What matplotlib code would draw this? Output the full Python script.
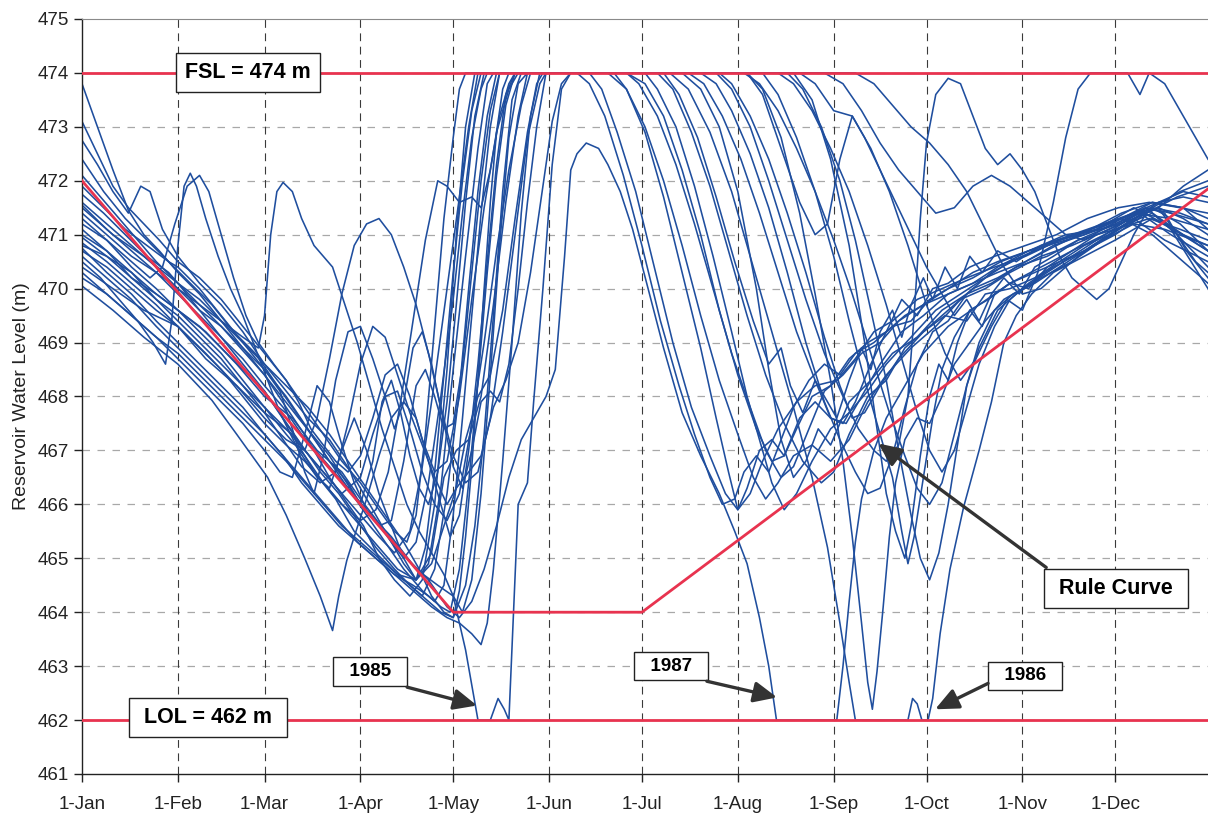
import matplotlib
matplotlib.use("Agg")
import matplotlib.pyplot as plt

plt.rcParams['font.family'] = ['Liberation Sans', 'DejaVu Sans']

# x axis is day of year (0 = 1-Jan)
MONTH_DAYS = [0, 31, 59, 90, 120, 151, 181, 212, 243, 273, 304, 334]
MONTH_LABELS = ["1-Jan", "1-Feb", "1-Mar", "1-Apr", "1-May", "1-Jun",
                "1-Jul", "1-Aug", "1-Sep", "1-Oct", "1-Nov", "1-Dec"]
LEVEL_TICKS = list(range(461, 476))

FSL = 474.0
LOL = 462.0
RULE_DAYS = [0, 120, 181, 364]
RULE_LEVELS = [472.0, 464.0, 464.0, 471.85]

# simulated daily reservoir levels, one list of (day, level) per year
SIM_1985 = [(0, 471.5), (10, 471.0), (20, 470.6), (31, 470.1), (45, 469.3), (59, 468.4),
            (70, 467.6), (80, 466.9), (90, 466.0), (100, 465.4), (108, 464.8), (115, 464.5),
            (120, 464.3), (124, 463.3), (128, 462.0), (132, 462.0), (134.5, 462.4),
            (136.5, 462.2), (138, 462.0), (139.5, 464.0), (141, 466.0), (144, 466.4),
            (146, 467.9), (149, 470.0), (152, 472.3), (155, 473.7), (158, 474.0),
            (194, 474.0), (200, 473.7), (206, 473.0), (212, 471.8), (218, 470.0),
            (222, 468.5), (226, 467.2), (230, 466.5), (234, 466.8), (238, 467.4),
            (242, 467.1), (248, 467.9), (255, 468.3), (262, 468.8), (270, 469.1),
            (278, 469.6), (286, 469.9), (294, 470.1), (302, 470.4), (312, 470.6),
            (322, 470.9), (334, 471.1), (345, 471.3), (355, 471.1), (364, 470.9)]

SIM_1986 = [(0, 470.4), (10, 470.0), (20, 469.6), (31, 469.3), (40, 468.7), (50, 468.2),
            (59, 467.7), (68, 467.3), (75, 466.6), (82, 466.1), (88, 465.5), (95, 465.1),
            (102, 464.7), (110, 464.3), (116, 464.0), (120, 463.9), (124, 464.5),
            (127, 465.6), (130, 467.3), (133, 469.5), (136, 471.8), (139, 473.5),
            (142, 474.0), (190, 474.0), (196, 473.7), (203, 472.9), (210, 471.8),
            (217, 470.4), (224, 469.0), (230, 467.8), (236, 466.5), (241, 465.2),
            (245, 463.8), (248, 462.7), (250, 462.0), (267, 462.0), (268.5, 462.4),
            (270, 462.3), (271.5, 462.0), (273.5, 462.0), (275, 462.4), (277.4, 463.6),
            (280.6, 464.8), (285, 465.95), (290, 467.0), (294, 467.9), (298, 469.0),
            (302, 469.5), (307, 469.9), (314, 470.3), (324, 470.6), (334, 470.9),
            (346, 471.3), (356, 471.0), (364, 470.8)]

SIM_1987 = [(0, 470.8), (8, 470.6), (16, 470.3), (24, 469.9), (31, 469.6), (40, 469.2),
            (50, 468.6), (59, 468.0), (68, 467.6), (76, 467.0), (84, 466.6), (90, 466.1),
            (98, 465.5), (105, 465.0), (112, 464.6), (118, 464.1), (122, 463.9),
            (126, 464.2), (130, 464.8), (134, 465.6), (138, 466.5), (142, 467.2),
            (146, 467.6), (150, 468.0), (153, 468.5), (156, 470.6), (158, 472.2),
            (160, 472.5), (163, 472.7), (167, 472.6), (170, 472.3), (174, 471.8),
            (178, 471.1), (183, 470.0), (188, 468.9), (194, 467.7), (200, 466.9),
            (206, 466.2), (211, 465.5), (215, 464.9), (219, 463.9), (222, 463.0),
            (224.5, 462.0), (244, 462.0), (246, 463.0), (248, 464.2), (250, 465.3),
            (252, 466.1), (256, 467.0), (260, 467.6), (266, 468.2), (272, 468.8),
            (280, 469.3), (290, 469.7), (300, 470.1), (310, 470.4), (320, 470.7),
            (334, 471.1), (346, 471.4), (356, 471.0), (364, 470.7)]

SIM_04 = [(0, 470.05), (10, 469.6), (20, 469.1), (31, 468.6), (42, 467.93), (50, 467.3),
          (60, 466.5), (66, 465.8), (72, 465.0), (77, 464.3), (81, 463.66), (83, 464.3),
          (85.6, 464.96), (88, 465.4), (92, 466.1), (96, 466.9), (100, 467.6), (104, 467.9),
          (108, 467.6), (112, 466.8), (116, 466.0), (119, 465.4), (122, 465.8), (125, 467.0),
          (128, 468.6), (131, 470.5), (134, 472.3), (137, 473.6), (140, 474.0), (176, 474.0),
          (182, 473.8), (188, 473.2), (194, 472.2), (200, 471.0), (206, 469.6), (212, 468.4),
          (218, 467.4), (223, 466.8), (227, 466.9), (232, 467.6), (237, 467.9), (242, 467.6),
          (247, 467.5), (252, 468.0), (258, 468.6), (265, 469.2), (272, 469.5), (280, 469.9),
          (288, 470.1), (296, 470.4), (306, 470.7), (318, 471.0), (330, 471.1), (340, 471.3),
          (350, 470.9), (364, 470.5)]

SIM_05 = [(0, 473.8), (5, 473.0), (10, 472.2), (15, 471.45), (20, 471.0), (25, 470.7),
          (31, 470.3), (38, 469.9), (45, 469.4), (52, 468.9), (59, 468.4), (66, 467.8),
          (73, 467.2), (80, 466.5), (86, 466.0), (91, 465.6), (96, 465.0), (101, 464.6),
          (106, 464.3), (110, 464.6), (114, 466.0), (118, 468.5), (121, 471.0), (124, 473.0),
          (127, 474.0), (170, 474.0), (176, 473.7), (182, 473.0), (188, 472.0), (194, 470.8),
          (200, 469.5), (206, 468.3), (212, 467.3), (217, 466.5), (221, 466.1), (225, 466.4),
          (230, 466.9), (236, 467.1), (242, 466.8), (248, 467.2), (254, 467.9), (260, 468.4),
          (268, 468.9), (276, 469.3), (284, 469.8), (292, 470.0), (300, 470.3), (310, 470.6),
          (320, 470.8), (332, 471.1), (342, 471.4), (352, 471.0), (364, 470.6)]

SIM_06 = [(0, 470.5), (6, 470.2), (12, 469.8), (18, 469.4), (23, 469.0), (27, 468.6),
          (29, 469.4), (31, 470.8), (33, 471.9), (35, 472.14), (37, 471.9), (40, 471.3),
          (44, 470.6), (48, 470.0), (52, 469.5), (56, 468.9), (60, 468.3), (64, 467.7),
          (70, 467.0), (76, 466.5), (80, 466.3), (84, 467.0), (88, 467.6), (92, 467.0),
          (96, 466.2), (100, 465.6), (104, 465.0), (108, 464.6), (112, 464.9), (116, 466.3),
          (120, 468.5), (124, 470.6), (128, 472.6), (131, 473.8), (133, 474.0), (200, 474.0),
          (205, 473.8), (210, 473.3), (216, 472.5), (222, 471.5), (228, 470.3), (234, 469.0),
          (240, 467.9), (245, 467.2), (250, 466.6), (254, 466.2), (258, 466.3), (262, 466.9),
          (266, 467.8), (270, 468.6), (275, 469.2), (280, 469.4), (286, 469.9), (294, 470.3),
          (304, 470.6), (316, 470.9), (328, 471.1), (340, 471.5), (350, 471.2), (364, 470.7)]

SIM_07 = [(0, 471.2), (8, 470.9), (16, 470.5), (22, 470.2), (26, 470.4), (30, 471.2),
          (34, 471.9), (38, 472.1), (41, 471.8), (45, 471.0), (49, 470.2), (53, 469.5),
          (57, 469.0), (62, 468.6), (66, 468.3), (70, 467.9), (74, 467.4), (78, 467.1),
          (82, 466.8), (86, 466.6), (90, 466.9), (94, 467.6), (98, 468.4), (102, 468.6),
          (106, 468.0), (110, 467.2), (114, 466.6), (118, 466.8), (122, 468.0), (126, 469.8),
          (130, 471.5), (134, 472.9), (138, 473.7), (141, 474.0), (182, 474.0), (186, 473.7),
          (192, 473.0), (198, 471.9), (204, 470.6), (210, 469.2), (215, 468.0), (219, 467.2),
          (223, 466.4), (227, 465.9), (231, 466.2), (236, 466.8), (242, 467.4), (248, 467.7),
          (254, 468.1), (260, 468.6), (268, 469.1), (276, 469.6), (284, 469.9), (292, 470.2),
          (300, 470.5), (312, 470.8), (324, 471.0), (336, 471.3), (346, 471.6), (356, 471.5),
          (364, 471.1)]

SIM_08 = [(0, 471.6), (8, 471.2), (16, 470.8), (24, 470.4), (31, 470.0), (38, 469.7),
          (45, 469.4), (52, 469.1), (57, 468.9), (59, 469.5), (61, 471.0), (63, 471.8),
          (65, 471.97), (68, 471.8), (71, 471.3), (75, 470.8), (78, 470.6), (81, 470.4),
          (85, 469.7), (89, 469.0), (93, 468.2), (97, 467.4), (101, 466.7), (105, 466.0),
          (109, 465.5), (113, 465.1), (117, 464.7), (120, 464.3), (123, 464.0), (126, 464.6),
          (129, 466.2), (132, 468.4), (135, 470.8), (138, 472.8), (141, 473.8), (144, 474.0),
          (206, 474.0), (210, 473.8), (216, 473.2), (222, 472.4), (228, 471.4), (234, 470.3),
          (240, 469.1), (245, 468.2), (249, 467.6), (253, 467.7), (258, 468.2), (264, 468.7),
          (272, 469.2), (280, 469.6), (288, 470.0), (296, 470.2), (305, 470.5), (315, 470.8),
          (326, 471.1), (336, 471.4), (346, 471.6), (356, 471.5), (364, 471.3)]

SIM_09 = [(0, 470.85), (8, 470.5), (16, 470.1), (24, 469.7), (31, 469.3), (40, 468.8),
          (50, 468.2), (59, 467.6), (66, 467.2), (72, 467.0), (76, 467.6), (80, 468.7),
          (84, 469.9), (88, 470.8), (92, 471.2), (96, 471.3), (100, 471.0), (104, 470.4),
          (108, 469.7), (112, 468.8), (116, 467.8), (120, 466.9), (124, 466.4), (128, 466.6),
          (132, 467.6), (136, 469.2), (140, 471.0), (144, 472.8), (148, 473.8), (150, 474.0),
          (214, 474.0), (219, 473.8), (225, 473.3), (231, 472.6), (237, 471.8), (243, 470.9),
          (249, 469.9), (255, 468.8), (261, 467.7), (266, 466.9), (270, 466.3), (274, 466.0),
          (278, 466.4), (282, 467.3), (286, 468.2), (290, 468.9), (296, 469.6), (302, 469.9),
          (310, 470.2), (320, 470.5), (330, 470.9), (340, 471.2), (350, 471.1), (364, 470.8)]

SIM_10 = [(0, 472.75), (5, 472.3), (10, 471.8), (15, 471.4), (19, 471.9), (22, 471.8),
          (26, 471.1), (31, 470.6), (38, 470.1), (45, 469.7), (52, 469.2), (59, 468.6),
          (66, 468.1), (73, 467.6), (80, 467.2), (87, 466.6), (93, 466.0), (99, 465.4),
          (104, 464.9), (108, 464.6), (111, 465.2), (114, 466.6), (117, 468.4), (120, 470.3),
          (123, 472.0), (126, 473.3), (129, 474.0), (176, 474.0), (180, 473.8), (186, 473.2),
          (192, 472.3), (198, 471.2), (204, 470.0), (210, 468.8), (216, 467.8), (221, 467.0),
          (226, 466.5), (230, 466.7), (235, 467.4), (240, 468.1), (246, 468.4), (252, 468.8),
          (258, 469.0), (264, 469.4), (272, 469.7), (280, 470.0), (288, 470.2), (297, 470.5),
          (306, 470.7), (316, 470.9), (326, 471.1), (336, 471.3), (346, 471.0), (356, 470.5),
          (364, 470.1)]

SIM_11 = [(0, 472.1), (6, 471.7), (12, 471.3), (18, 470.9), (24, 470.5), (31, 470.1),
          (38, 469.6), (45, 469.1), (52, 468.6), (59, 468.1), (66, 467.5), (72, 467.0),
          (78, 466.6), (84, 466.2), (90, 466.5), (94, 467.3), (98, 468.0), (102, 468.1),
          (106, 467.4), (110, 466.6), (114, 466.0), (118, 465.7), (122, 466.2), (126, 467.5),
          (130, 469.0), (134, 470.7), (138, 472.2), (142, 473.4), (145, 474.0), (225, 474.0),
          (230, 473.8), (236, 473.3), (242, 472.6), (248, 471.8), (254, 470.8), (260, 469.7),
          (265, 468.7), (270, 467.7), (274, 467.0), (278, 466.6), (282, 467.0), (286, 467.8),
          (290, 468.6), (295, 469.3), (300, 469.8), (306, 470.1), (314, 470.4), (324, 470.7),
          (334, 471.0), (344, 471.4), (354, 471.7), (364, 471.9)]

SIM_12 = [(0, 471.9), (7, 471.5), (14, 471.1), (21, 470.8), (28, 470.5), (31, 470.4),
          (38, 470.0), (45, 469.5), (52, 469.0), (59, 468.5), (66, 468.0), (73, 467.4),
          (80, 466.8), (86, 466.3), (92, 465.8), (98, 465.3), (104, 464.8), (110, 464.4),
          (114, 464.2), (117, 464.5), (120, 465.8), (123, 467.6), (126, 469.5), (129, 471.4),
          (132, 473.0), (135, 474.0), (164, 474.0), (168, 473.7), (173, 472.9), (179, 471.8),
          (185, 470.4), (191, 469.0), (197, 467.8), (203, 466.9), (208, 466.2), (212, 465.9),
          (216, 466.2), (220, 466.8), (225, 467.4), (231, 467.9), (237, 468.2), (244, 468.3),
          (250, 468.7), (256, 469.2), (262, 469.4), (270, 469.8), (278, 470.0), (286, 470.2),
          (295, 470.4), (305, 470.6), (316, 470.9), (328, 471.1), (340, 471.4), (352, 471.3),
          (364, 471.1)]

SIM_13 = [(0, 471.3), (8, 470.9), (16, 470.4), (24, 470.0), (31, 469.6), (38, 469.2),
          (45, 468.8), (52, 468.3), (59, 467.8), (66, 467.3), (72, 466.9), (78, 466.4),
          (84, 466.0), (90, 465.7), (95, 465.9), (99, 466.6), (103, 467.9), (107, 469.4),
          (111, 470.9), (115, 472.0), (118, 471.9), (122, 471.6), (126, 471.7), (129, 471.5),
          (132, 472.2), (135, 473.2), (138, 473.8), (140, 474.0), (240, 474.0), (246, 473.8),
          (252, 473.3), (258, 472.7), (264, 472.2), (270, 471.8), (276, 471.4), (282, 471.5),
          (288, 471.9), (294, 472.1), (300, 471.9), (306, 471.6), (312, 471.3), (318, 471.0),
          (324, 470.9), (330, 471.1), (336, 471.3), (344, 471.5), (352, 471.4), (364, 471.2)]

SIM_14 = [(0, 471.1), (8, 470.7), (16, 470.2), (24, 469.8), (31, 469.5), (38, 469.1),
          (45, 468.7), (52, 468.2), (59, 467.7), (65, 467.2), (71, 466.7), (77, 466.4),
          (82, 466.6), (86, 467.5), (90, 468.6), (94, 469.3), (98, 469.1), (102, 468.4),
          (106, 467.7), (110, 467.1), (114, 466.5), (118, 466.0), (121, 466.3), (124, 467.2),
          (128, 468.0), (132, 468.4), (136, 469.6), (140, 471.3), (144, 472.9), (147, 473.8),
          (149, 474.0), (205, 474.0), (210, 473.7), (216, 473.0), (222, 472.0), (228, 470.9),
          (234, 469.8), (240, 468.8), (246, 468.0), (251, 467.4), (256, 467.0), (260, 466.8),
          (264, 467.1), (267, 468.0), (269, 469.5), (271, 471.3), (273, 472.7), (276, 473.6),
          (280, 473.9), (284, 473.8), (288, 473.2), (292, 472.6), (296, 472.3), (300, 472.5),
          (304, 472.2), (308, 471.8), (312, 471.2), (316, 470.6), (320, 470.2), (324, 470.0),
          (328, 469.8), (332, 470.0), (336, 470.5), (340, 471.0), (344, 471.4), (348, 471.5),
          (354, 471.0), (360, 470.5), (364, 470.3)]

SIM_15 = [(0, 470.7), (8, 470.4), (16, 470.0), (24, 469.6), (31, 469.3), (38, 468.9),
          (45, 468.5), (52, 468.0), (59, 467.5), (66, 467.1), (72, 466.8), (78, 466.4),
          (84, 466.0), (90, 465.6), (96, 465.2), (102, 464.8), (108, 464.6), (113, 464.9),
          (117, 465.6), (121, 466.3), (125, 466.6), (129, 466.9), (133, 467.8), (137, 468.3),
          (141, 469.0), (145, 470.3), (149, 471.9), (152, 473.1), (155, 473.8), (158, 474.0),
          (186, 474.0), (191, 473.7), (197, 472.9), (203, 471.9), (209, 470.7), (215, 469.5),
          (221, 468.4), (227, 467.5), (233, 466.8), (239, 466.4), (243, 466.6), (248, 467.3),
          (254, 468.0), (260, 468.3), (266, 468.9), (272, 469.2), (279, 469.5), (286, 469.4),
          (292, 469.9), (300, 470.0), (308, 470.2), (316, 470.5), (324, 470.7), (332, 471.0),
          (340, 471.3), (348, 471.5), (356, 471.9), (364, 472.2)]

SIM_16 = [(0, 470.6), (8, 470.2), (16, 469.8), (24, 469.3), (31, 468.9), (38, 468.5),
          (45, 468.1), (52, 467.7), (59, 467.3), (65, 466.9), (71, 466.4), (77, 466.0),
          (83, 465.6), (89, 465.3), (95, 465.0), (101, 464.7), (107, 464.5), (112, 464.3),
          (116, 464.1), (119, 464.0), (122, 464.8), (125, 466.4), (128, 468.3), (131, 470.3),
          (134, 472.1), (137, 473.4), (140, 474.0), (215, 474.0), (220, 473.7), (226, 472.8),
          (232, 471.4), (237, 469.9), (242, 468.3), (246, 466.8), (249, 465.4), (252, 463.8),
          (254, 462.7), (255.5, 462.2), (257, 462.9), (259, 464.1), (261, 465.4), (263, 466.4),
          (266, 467.2), (270, 467.6), (274, 467.5), (278, 468.0), (282, 468.6), (287, 469.0),
          (292, 469.4), (298, 469.8), (304, 470.0), (312, 470.3), (320, 470.6), (328, 470.9),
          (336, 471.2), (344, 471.5), (350, 471.4), (357, 470.7), (364, 470.2)]

SIM_17 = [(0, 470.95), (8, 470.6), (16, 470.2), (24, 469.9), (31, 469.6), (38, 469.3),
          (45, 468.9), (52, 468.5), (59, 468.1), (65, 467.6), (71, 467.1), (77, 466.6),
          (83, 466.2), (89, 465.7), (95, 465.2), (101, 464.8), (106, 464.5), (110, 464.3),
          (114, 464.8), (118, 466.2), (122, 468.1), (125, 470.0), (128, 471.8), (131, 473.2),
          (134, 474.0), (228, 474.0), (233, 473.7), (239, 473.0), (245, 472.0), (250, 470.9),
          (255, 469.6), (260, 468.3), (264, 467.0), (268, 465.8), (271, 465.0), (274, 464.6),
          (277, 465.1), (280, 466.0), (283, 467.1), (286, 468.2), (290, 469.0), (295, 469.6),
          (301, 469.9), (308, 470.1), (316, 470.4), (324, 470.7), (332, 471.0), (340, 471.3),
          (348, 471.5), (356, 471.3), (364, 471.0)]

SIM_18 = [(0, 471.4), (8, 471.0), (16, 470.6), (24, 470.3), (31, 469.9), (38, 469.5),
          (45, 469.1), (52, 468.7), (59, 468.2), (65, 467.8), (71, 467.3), (77, 466.9),
          (83, 466.5), (89, 466.1), (95, 465.7), (100, 465.3), (104, 465.0), (108, 465.3),
          (112, 466.4), (116, 468.0), (120, 469.8), (123, 471.4), (126, 472.8), (129, 473.7),
          (131, 474.0), (220, 474.0), (225, 473.6), (231, 472.8), (237, 471.8), (243, 470.6),
          (248, 469.4), (253, 468.3), (258, 467.3), (262, 466.5), (265, 465.5), (267, 464.9),
          (269, 465.4), (272, 466.5), (275, 467.6), (278, 468.5), (282, 469.1), (287, 469.6),
          (293, 469.8), (300, 470.1), (308, 470.3), (316, 470.5), (324, 470.8), (332, 471.0),
          (340, 471.3), (348, 471.6), (356, 471.7), (364, 471.6)]

SIM_19 = [(0, 471.75), (7, 471.4), (14, 471.0), (21, 470.6), (28, 470.3), (31, 470.1),
          (38, 469.8), (45, 469.4), (52, 469.0), (59, 468.6), (66, 468.2), (73, 467.8),
          (80, 467.3), (86, 466.8), (92, 466.3), (98, 465.8), (104, 465.3), (109, 464.8),
          (113, 464.3), (117, 464.0), (120, 463.9), (122, 464.4), (124, 465.4), (126, 466.7),
          (128, 468.3), (130, 470.0), (132, 471.6), (134, 472.9), (136, 473.7), (138, 474.0),
          (160, 474.0), (164, 473.8), (169, 473.2), (175, 472.1), (181, 470.8), (187, 469.4),
          (193, 468.2), (198, 467.3), (203, 466.5), (207, 466.0), (211, 466.1), (214, 466.6),
          (218, 466.9), (222, 466.6), (226, 467.2), (230, 467.8), (235, 468.3), (240, 468.6),
          (245, 468.4), (250, 468.8), (256, 469.0), (262, 469.3), (268, 469.4), (274, 469.8),
          (280, 470.0), (288, 470.3), (296, 470.5), (306, 470.7), (316, 470.9), (326, 471.1),
          (336, 471.3), (346, 471.5), (355, 471.8), (364, 472.0)]

SIM_20 = [(0, 470.2), (8, 469.9), (16, 469.5), (24, 469.1), (31, 468.8), (38, 468.4),
          (45, 468.0), (52, 467.6), (59, 467.2), (66, 466.8), (72, 466.4), (78, 466.0),
          (84, 465.6), (90, 465.3), (96, 465.0), (102, 464.7), (108, 464.6), (113, 465.1),
          (117, 466.5), (121, 467.0), (125, 467.2), (129, 468.0), (133, 469.7), (137, 471.6),
          (141, 473.2), (144, 474.0), (232, 474.0), (237, 473.8), (243, 473.3), (249, 473.2),
          (255, 472.6), (261, 471.8), (267, 470.8), (273, 469.7), (279, 468.8), (284, 468.3),
          (289, 468.7), (294, 469.3), (299, 469.8), (304, 469.6), (309, 470.3), (314, 471.6),
          (318, 472.8), (322, 473.7), (326, 474.0), (338, 474.0), (342, 473.6), (345, 474.0),
          (350, 473.8), (356, 473.2), (364, 472.4)]

SIM_21 = [(0, 471.0), (8, 470.7), (16, 470.3), (24, 469.8), (31, 469.4), (38, 469.0),
          (45, 468.6), (52, 468.2), (59, 467.8), (66, 467.4), (72, 467.0), (78, 466.6),
          (84, 466.2), (90, 465.8), (96, 465.4), (101, 465.1), (106, 465.5), (110, 466.7),
          (114, 468.3), (118, 470.0), (122, 471.7), (125, 473.0), (128, 474.0), (250, 474.0),
          (256, 473.8), (262, 473.4), (268, 473.0), (274, 472.7), (280, 472.3), (286, 471.8),
          (292, 471.1), (298, 470.4), (304, 469.9), (310, 470.0), (316, 470.3), (322, 470.6),
          (330, 470.9), (338, 471.2), (346, 471.5), (355, 471.2), (364, 470.7)]

SIM_22 = [(0, 470.75), (8, 470.3), (16, 469.9), (24, 469.4), (31, 469.0), (38, 468.6),
          (45, 468.2), (52, 467.8), (59, 467.3), (65, 466.9), (71, 466.5), (77, 466.1),
          (83, 465.7), (89, 465.3), (95, 465.0), (101, 464.7), (107, 464.4), (113, 464.1),
          (118, 463.9), (122, 463.8), (126, 463.6), (129, 463.4), (131, 463.8), (133, 464.8),
          (136, 466.8), (139, 469.0), (142, 471.4), (145, 473.2), (148, 474.0), (172, 474.0),
          (176, 473.7), (182, 472.9), (188, 471.7), (194, 470.3), (200, 468.9), (205, 467.6),
          (209, 466.6), (212, 465.9), (215, 466.3), (219, 467.0), (223, 467.2), (227, 466.9),
          (231, 467.4), (236, 468.0), (242, 468.2), (248, 468.7), (254, 469.0), (260, 469.2),
          (266, 469.5), (272, 469.7), (280, 469.9), (288, 470.1), (296, 470.3), (305, 470.5),
          (314, 470.8), (324, 471.0), (334, 471.2), (344, 471.5), (354, 471.0), (364, 470.4)]

SIM_23 = [(0, 473.1), (5, 472.5), (10, 471.9), (15, 471.5), (20, 471.2), (25, 470.9),
          (31, 470.5), (38, 470.2), (45, 469.8), (52, 469.3), (59, 468.8), (66, 468.3),
          (72, 467.8), (78, 467.3), (84, 466.8), (90, 466.4), (96, 465.9), (101, 465.5),
          (105, 465.3), (108, 465.8), (111, 467.3), (114, 469.3), (117, 471.3), (120, 472.8),
          (122, 473.7), (124, 474.0), (196, 474.0), (201, 473.8), (207, 473.2), (213, 472.4),
          (219, 471.4), (225, 470.3), (231, 469.2), (237, 468.3), (242, 467.6), (246, 467.5),
          (250, 467.9), (255, 468.6), (260, 469.2), (265, 469.8), (270, 469.5), (275, 470.0),
          (280, 470.1), (287, 470.4), (295, 470.6), (305, 470.8), (315, 471.0), (325, 471.3),
          (335, 471.5), (345, 471.6), (355, 471.5), (364, 471.4)]

SIM_24 = [(0, 471.55), (8, 471.1), (16, 470.7), (24, 470.3), (31, 470.0), (38, 469.6),
          (45, 469.3), (52, 468.9), (59, 468.5), (64, 468.1), (68, 467.4), (72, 466.6),
          (75, 466.2), (78, 466.9), (82, 468.3), (86, 469.2), (90, 469.3), (94, 468.7),
          (98, 468.0), (101, 467.4), (104, 467.9), (107, 468.9), (110, 469.2), (113, 468.6),
          (117, 467.5), (120, 466.7), (123, 466.3), (126, 467.0), (129, 467.9), (132, 468.1),
          (135, 467.9), (138, 468.6), (141, 470.0), (144, 471.6), (147, 473.0), (150, 474.0),
          (188, 474.0), (193, 473.6), (199, 472.8), (205, 471.7), (211, 470.5), (217, 469.4),
          (222, 468.6), (226, 468.9), (229, 468.2), (233, 467.7), (237, 468.3), (240, 468.0),
          (244, 467.6), (248, 468.3), (252, 468.9), (255, 468.5), (258, 469.2), (262, 469.6),
          (265, 469.1), (268, 469.7), (272, 470.2), (275, 469.8), (279, 470.4), (283, 470.0),
          (287, 470.6), (291, 470.3), (296, 470.7), (302, 470.5), (310, 470.8), (320, 471.0),
          (330, 471.2), (340, 471.4), (348, 471.6), (356, 471.8), (364, 471.7)]

SIM_25 = [(0, 472.4), (7, 471.8), (14, 471.3), (21, 470.9), (28, 470.5), (35, 470.1),
          (42, 469.7), (49, 469.2), (56, 468.8), (62, 468.3), (68, 467.8), (74, 467.3),
          (80, 466.8), (86, 466.4), (90, 466.0), (94, 466.8), (97, 467.9), (100, 468.3),
          (103, 467.7), (106, 466.9), (109, 466.3), (112, 466.0), (115, 466.6), (118, 467.9),
          (121, 469.7), (124, 471.6), (127, 473.2), (130, 474.0), (215, 474.0), (220, 473.6),
          (226, 472.6), (232, 471.6), (237, 471.0), (241, 471.2), (245, 472.4), (249, 473.2),
          (253, 472.8), (258, 472.2), (263, 471.6), (268, 471.0), (273, 470.4), (278, 469.9),
          (282, 469.5), (286, 469.8), (290, 469.4), (294, 469.9), (298, 470.2), (303, 469.9),
          (308, 470.4), (314, 470.6), (322, 470.9), (330, 471.1), (338, 471.3), (346, 471.5),
          (355, 471.4), (364, 471.2)]

SIM_26 = [(0, 470.3), (8, 469.9), (16, 469.5), (24, 469.1), (31, 468.7), (38, 468.3),
          (45, 467.9), (52, 467.5), (59, 467.0), (64, 466.6), (68, 466.5), (72, 467.3),
          (76, 468.2), (80, 467.9), (84, 467.1), (88, 466.4), (92, 465.9), (96, 465.6),
          (100, 465.7), (104, 466.8), (108, 468.2), (111, 468.5), (114, 468.0), (117, 467.4),
          (120, 467.5), (123, 468.6), (126, 470.3), (129, 472.0), (132, 473.3), (135, 474.0),
          (230, 474.0), (236, 473.5), (242, 472.4), (248, 470.8), (253, 469.0), (257, 467.4),
          (260, 466.2), (263, 465.5), (266, 465.0), (268, 465.6), (271, 466.9), (274, 468.0),
          (277, 468.6), (280, 468.3), (283, 469.0), (287, 469.6), (291, 469.3), (295, 469.9),
          (300, 470.1), (306, 470.0), (312, 470.4), (320, 470.7), (328, 471.0), (336, 471.2),
          (344, 471.5), (352, 471.1), (364, 470.0)]

TRACES = [SIM_1985, SIM_1986, SIM_1987, SIM_04, SIM_05, SIM_06, SIM_07, SIM_08,
          SIM_09, SIM_10, SIM_11, SIM_12, SIM_13, SIM_14, SIM_15, SIM_16, SIM_17,
          SIM_18, SIM_19, SIM_20, SIM_21, SIM_22, SIM_23, SIM_24, SIM_25, SIM_26]

BLUE = "#1f4e9e"
RED = "#e8334f"
ARROW = "#333333"

W, H = 1208, 815
fig = plt.figure(figsize=(W / 100, H / 100), dpi=100)
ax = fig.add_axes([82 / W, 41 / H, 1126 / W, 755 / H])

# grid: grey dashes for levels, dark dashes for months
for lv in LEVEL_TICKS[1:-1]:
    ax.axhline(lv, color="#a8a8a8", lw=0.9, ls=(0, (6, 6)), zorder=1)
for d in MONTH_DAYS[1:]:
    ax.axvline(d, color="#3a3a3a", lw=0.8, ls=(0, (7, 5)), zorder=1)

for tr in TRACES:
    days = [p[0] for p in tr]
    lev = [p[1] for p in tr]
    ax.plot(days, lev, color=BLUE, lw=1.15, zorder=2, solid_joinstyle="round")

ax.plot([0, 364], [FSL, FSL], color=RED, lw=2.0, zorder=3)
ax.plot([0, 364], [LOL, LOL], color=RED, lw=2.0, zorder=3)
ax.plot(RULE_DAYS, RULE_LEVELS, color=RED, lw=2.0, zorder=3)

ax.set_xlim(0, 364)
ax.set_ylim(461, 475)
ax.set_xticks(MONTH_DAYS)
ax.set_xticklabels(MONTH_LABELS)
ax.set_yticks(LEVEL_TICKS)
ax.tick_params(axis="both", direction="out", length=6, width=1, labelsize=13.5,
               colors="#222222")
ax.tick_params(axis="x", pad=10)
ax.set_ylabel("Reservoir Water Level (m)", fontsize=14, color="#222222", labelpad=5)

ax.spines["right"].set_visible(False)
ax.spines["top"].set_color("#8a8a8a")
ax.spines["top"].set_linewidth(0.8)
for s in ("left", "bottom"):
    ax.spines[s].set_color("#222222")
    ax.spines[s].set_linewidth(1.0)

box = dict(boxstyle="square,pad=0.42", fc="white", ec="#222222", lw=1.0)
ax.text(53.7, 474.0, "FSL = 474 m", fontsize=15.5, fontweight="bold", ha="center",
        va="center", bbox=box, zorder=6)
ax.text(40.7, 462.05, " LOL = 462 m ", fontsize=15.5, fontweight="bold", ha="center",
        va="center", bbox=box, zorder=6)
ax.text(334.3, 464.44, " Rule Curve ", fontsize=15.5, fontweight="bold", ha="center",
        va="center", bbox=box, zorder=6)

ybox = dict(boxstyle="square,pad=0.3", fc="white", ec="#222222", lw=1.0)
ax.text(93.1, 462.9, "  1985  ", fontsize=13.5, fontweight="bold", ha="center",
        va="center", bbox=ybox, zorder=6)
ax.text(190.4, 463.0, "  1987  ", fontsize=13.5, fontweight="bold", ha="center",
        va="center", bbox=ybox, zorder=6)
ax.text(304.9, 462.82, "  1986  ", fontsize=13.5, fontweight="bold", ha="center",
        va="center", bbox=ybox, zorder=6)

arrow = dict(arrowstyle="-|>,head_length=1.0,head_width=0.45", color=ARROW, lw=2.4,
             shrinkA=0, shrinkB=0, mutation_scale=14)
for start, tip in [((105.1, 462.61), (127.7, 462.27)),
                   ((202.0, 462.72), (224.7, 462.42)),
                   ((292.9, 462.68), (275.8, 462.2)),
                   ((311.7, 464.83), (257.4, 467.13))]:
    ax.annotate("", xy=tip, xytext=start, arrowprops=arrow, zorder=7)

fig.savefig("out.png", dpi=100)
